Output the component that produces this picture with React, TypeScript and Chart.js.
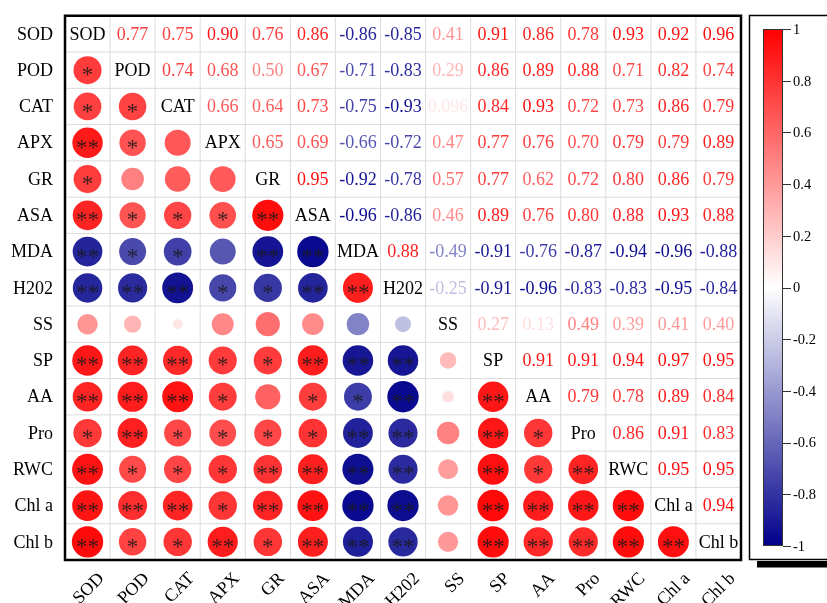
import React, { useEffect, useRef } from 'react';
import { Chart, registerables } from 'chart.js';

Chart.register(...registerables);

// Variables (row / column order)
const variables = ['SOD', 'POD', 'CAT', 'APX', 'GR', 'ASA', 'MDA', 'H202', 'SS', 'SP', 'AA', 'Pro', 'RWC', 'Chl a', 'Chl b'];

// Upper-triangle correlations: each row lists r with the variables to its right
const rSOD = [0.77, 0.75, 0.90, 0.76, 0.86, -0.86, -0.85, 0.41, 0.91, 0.86, 0.78, 0.93, 0.92, 0.96];
const rPOD = [0.74, 0.68, 0.50, 0.67, -0.71, -0.83, 0.29, 0.86, 0.89, 0.88, 0.71, 0.82, 0.74];
const rCAT = [0.66, 0.64, 0.73, -0.75, -0.93, 0.096, 0.84, 0.93, 0.72, 0.73, 0.86, 0.79];
const rAPX = [0.65, 0.69, -0.66, -0.72, 0.47, 0.77, 0.76, 0.70, 0.79, 0.79, 0.89];
const rGR = [0.95, -0.92, -0.78, 0.57, 0.77, 0.62, 0.72, 0.80, 0.86, 0.79];
const rASA = [-0.96, -0.86, 0.46, 0.89, 0.76, 0.80, 0.88, 0.93, 0.88];
const rMDA = [0.88, -0.49, -0.91, -0.76, -0.87, -0.94, -0.96, -0.88];
const rH202 = [-0.25, -0.91, -0.96, -0.83, -0.83, -0.95, -0.84];
const rSS = [0.27, 0.13, 0.49, 0.39, 0.41, 0.40];
const rSP = [0.91, 0.91, 0.94, 0.97, 0.95];
const rAA = [0.79, 0.78, 0.89, 0.84];
const rPro = [0.86, 0.91, 0.83];
const rRWC = [0.95, 0.95];
const rChla = [0.94];
const upperRows = [rSOD, rPOD, rCAT, rAPX, rGR, rASA, rMDA, rH202, rSS, rSP, rAA, rPro, rRWC, rChla, []];

// Significance marks (lower triangle): each row lists marks vs the variables to its left
const sPOD = ['*'];
const sCAT = ['*', '*'];
const sAPX = ['**', '*', ''];
const sGR = ['*', '', '', ''];
const sASA = ['**', '*', '*', '*', '**'];
const sMDA = ['**', '*', '*', '', '**', '**'];
const sH202 = ['**', '**', '**', '*', '*', '**', '**'];
const sSS = ['', '', '', '', '', '', '', ''];
const sSP = ['**', '**', '**', '*', '*', '**', '**', '**', ''];
const sAA = ['**', '**', '**', '*', '', '*', '*', '**', '', '**'];
const sPro = ['*', '**', '*', '*', '*', '*', '**', '**', '', '**', '*'];
const sRWC = ['**', '*', '*', '*', '**', '**', '**', '**', '', '**', '*', '**'];
const sChla = ['**', '**', '**', '*', '**', '**', '**', '**', '', '**', '**', '**', '**'];
const sChlb = ['**', '*', '*', '**', '*', '**', '**', '**', '', '**', '**', '**', '**', '**'];
const sigRows = [[], sPOD, sCAT, sAPX, sGR, sASA, sMDA, sH202, sSS, sSP, sAA, sPro, sRWC, sChla, sChlb];

// Colour bar ticks
const barTicks = [1, 0.8, 0.6, 0.4, 0.2, 0, -0.2, -0.4, -0.6, -0.8, -1];

const FONT = "'Liberation Serif', 'Times New Roman', serif";

function corr(i: number, j: number): number {
  if (i === j) return 1;
  const a = Math.min(i, j);
  const b = Math.max(i, j);
  return upperRows[a][b - a - 1];
}

function colorFor(v: number): string {
  let r: number, g: number, b: number;
  if (v >= 0) {
    const t = Math.min(1, v);
    r = 255;
    g = 255 * (1 - t);
    b = 255 * (1 - t);
  } else {
    const t = Math.min(1, -v);
    r = 255 * (1 - t);
    g = 255 * (1 - t);
    b = 255 + (139 - 255) * t;
  }
  return `rgb(${Math.round(r)},${Math.round(g)},${Math.round(b)})`;
}

function fmt(v: number): string {
  return v.toPrecision(2);
}

const corrPlugin = {
  id: 'corrPlugin',
  beforeDatasetsDraw(chart: any) {
    const { ctx, chartArea, scales } = chart;
    const xs = scales.x;
    const ys = scales.y;
    const n = variables.length;
    ctx.save();
    ctx.fillStyle = '#ffffff';
    ctx.fillRect(chartArea.left, chartArea.top, chartArea.right - chartArea.left, chartArea.bottom - chartArea.top);
    ctx.strokeStyle = '#dcdcdc';
    ctx.lineWidth = 1;
    for (let k = 1; k < n; k++) {
      const px = xs.getPixelForValue(k - 0.5);
      ctx.beginPath();
      ctx.moveTo(px, chartArea.top);
      ctx.lineTo(px, chartArea.bottom);
      ctx.stroke();
      const py = ys.getPixelForValue(k - 0.5);
      ctx.beginPath();
      ctx.moveTo(chartArea.left, py);
      ctx.lineTo(chartArea.right, py);
      ctx.stroke();
    }
    ctx.restore();
  },
  afterDatasetsDraw(chart: any) {
    const { ctx, chartArea, scales } = chart;
    const xs = scales.x;
    const ys = scales.y;
    const n = variables.length;
    ctx.save();
    // cell texts
    ctx.textAlign = 'center';
    ctx.textBaseline = 'middle';
    for (let i = 0; i < n; i++) {
      for (let j = 0; j < n; j++) {
        const cx = xs.getPixelForValue(j);
        const cy = ys.getPixelForValue(i);
        if (i === j) {
          ctx.font = `18px ${FONT}`;
          ctx.fillStyle = '#000';
          ctx.fillText(variables[i], cx, cy + 1);
        } else if (j > i) {
          const v = corr(i, j);
          ctx.font = `18px ${FONT}`;
          ctx.fillStyle = colorFor(v);
          ctx.fillText(fmt(v), cx, cy + 1);
        } else {
          const s = sigRows[i][j];
          if (s) {
            ctx.font = `23px ${FONT}`;
            ctx.fillStyle = 'rgba(25,25,25,0.85)';
            ctx.fillText(s, cx, cy + 6);
          }
        }
      }
    }
    // frame
    ctx.strokeStyle = '#000';
    ctx.lineWidth = 2.5;
    ctx.strokeRect(chartArea.left, chartArea.top, chartArea.right - chartArea.left, chartArea.bottom - chartArea.top);
    // y labels
    ctx.font = `18px ${FONT}`;
    ctx.fillStyle = '#000';
    ctx.textAlign = 'right';
    ctx.textBaseline = 'middle';
    for (let i = 0; i < n; i++) {
      ctx.fillText(variables[i], chartArea.left - 12, ys.getPixelForValue(i) + 1);
    }
    // x labels rotated
    ctx.textAlign = 'right';
    ctx.textBaseline = 'middle';
    for (let j = 0; j < n; j++) {
      const ax = xs.getPixelForValue(j) + 14;
      const ay = chartArea.bottom + 16;
      ctx.save();
      ctx.translate(ax, ay);
      ctx.rotate(-Math.PI / 4);
      ctx.fillText(variables[j], 0, 0);
      ctx.restore();
    }
    // colour bar
    const bx0 = 763, bx1 = 783, by0 = 29, by1 = 546;
    const grad = ctx.createLinearGradient(0, by0, 0, by1);
    for (let k = 0; k <= 20; k++) {
      const v = 1 - k / 10;
      grad.addColorStop(k / 20, colorFor(v));
    }
    ctx.fillStyle = grad;
    ctx.fillRect(bx0, by0, bx1 - bx0, by1 - by0);
    ctx.strokeStyle = '#333';
    ctx.lineWidth = 1;
    ctx.strokeRect(bx0 + 0.5, by0 + 0.5, bx1 - bx0 - 1, by1 - by0 - 1);
    ctx.font = `14.5px ${FONT}`;
    ctx.fillStyle = '#000';
    ctx.textAlign = 'left';
    ctx.textBaseline = 'middle';
    for (const t of barTicks) {
      const py = by0 + ((1 - t) / 2) * (by1 - by0);
      ctx.beginPath();
      ctx.moveTo(bx1, Math.round(py) + 0.5);
      ctx.lineTo(bx1 + 8, Math.round(py) + 0.5);
      ctx.strokeStyle = '#333';
      ctx.stroke();
      ctx.fillText(String(t), bx1 + 10, py + 1);
    }
    // legend box
    ctx.strokeStyle = '#000';
    ctx.lineWidth = 1.5;
    ctx.strokeRect(749.5, 15.5, 90, 544);
    ctx.fillStyle = '#000';
    ctx.fillRect(757, 561, 75, 6.5);
    ctx.restore();
  },
};

export default function App() {
  const canvasRef = useRef<HTMLCanvasElement | null>(null);

  useEffect(() => {
    const canvas = canvasRef.current;
    if (!canvas) return;
    const n = variables.length;
    const points: any[] = [];
    for (let i = 0; i < n; i++) {
      for (let j = 0; j < i; j++) {
        const v = corr(i, j);
        points.push({ x: j, y: i, r: 16 * Math.sqrt(Math.abs(v)), v });
      }
    }
    const chart = new Chart(canvas, {
      type: 'bubble',
      data: {
        datasets: [
          {
            data: points,
            backgroundColor: (c: any) => colorFor(c.raw ? c.raw.v : 0),
            borderWidth: 0,
            hoverRadius: 0,
          } as any,
        ],
      },
      options: {
        responsive: false,
        animation: false,
        events: [],
        layout: { padding: { left: 65, right: 86, top: 15, bottom: 43 } },
        plugins: { legend: { display: false }, tooltip: { enabled: false } },
        scales: {
          x: { type: 'linear', min: -0.5, max: n - 0.5, display: false },
          y: { type: 'linear', min: -0.5, max: n - 0.5, reverse: true, display: false },
        },
      },
      plugins: [corrPlugin],
    });
    return () => chart.destroy();
  }, []);

  return (
    <div style={{ position: 'absolute', left: 0, top: 0, width: 827, height: 603, background: '#fff' }}>
      <canvas ref={canvasRef} width={827} height={603} />
    </div>
  );
}
